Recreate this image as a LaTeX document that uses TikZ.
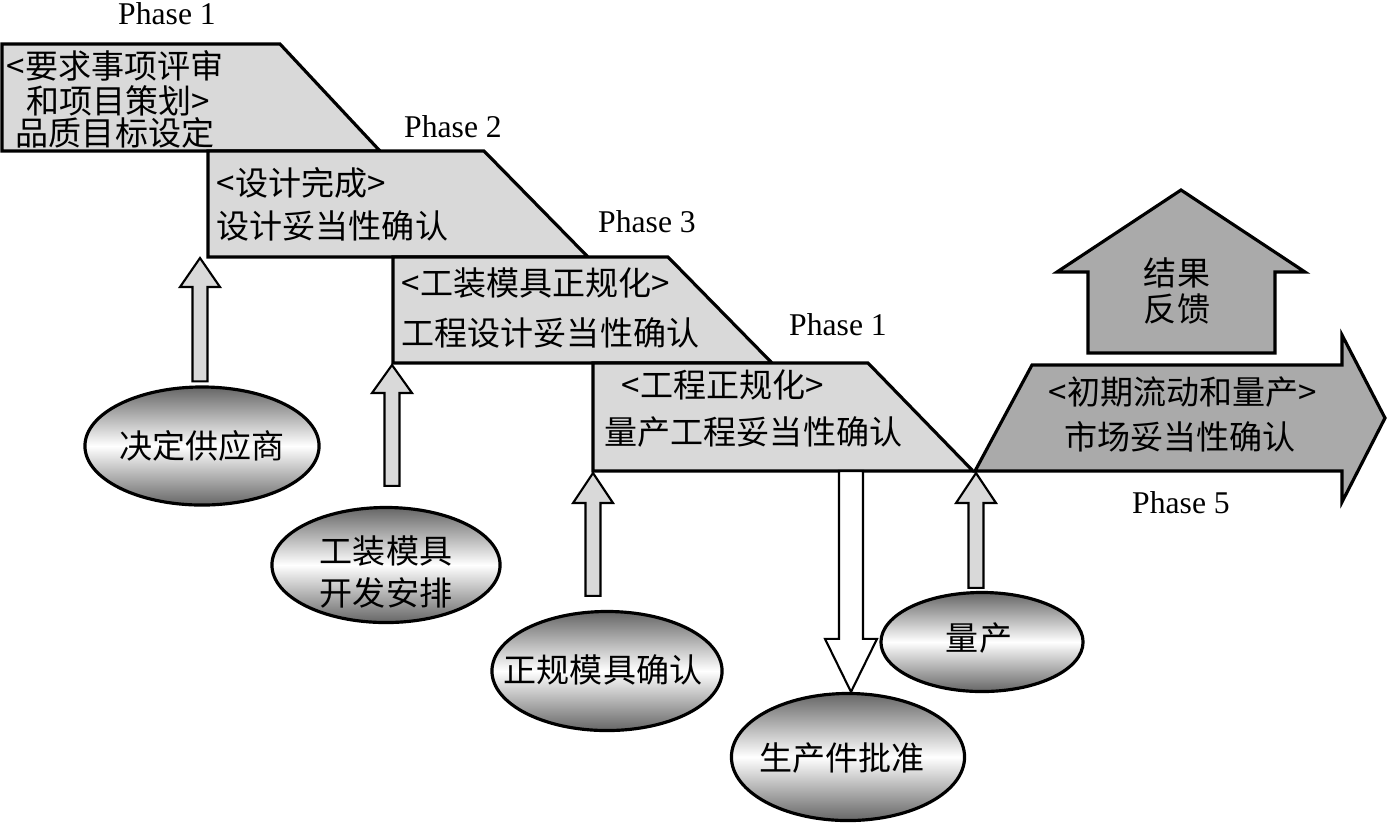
\documentclass[tikz,border=0pt]{standalone}
\usepackage{fontspec}
\setmainfont{Liberation Serif}
\newfontfamily\cjk{Noto Sans CJK SC}
\usetikzlibrary{shapes.geometric,calc}
\definecolor{boxgray}{RGB}{217,217,217}
\definecolor{markgray}{RGB}{170,170,170}
\tikzset{
  phasebox/.style={draw, line width=0.9pt, fill=boxgray, line join=miter},
  bigarrow/.style={draw, line width=0.9pt, fill=markgray},
  uparrow/.style={draw, line width=0.6pt, fill=boxgray},
  downarrow/.style={draw, line width=0.6pt, fill=white},
  cjktext/.style={font=\cjk\fontsize{9.4}{11}\selectfont, inner sep=0pt},
  phaselabel/.style={font=\fontsize{9}{11}\selectfont, inner sep=0pt},
  event/.style={ellipse, draw, line width=0.9pt, top color=black!60,
    bottom color=black!60, middle color=white, inner sep=0pt},
  eventtext/.style={cjktext, align=center, font=\cjk\fontsize{9.4}{10.8}\selectfont},
}
% block arrow: style, tail, tip, half shaft, half head, head length
\newcommand{\blockarrow}[6]{%
  \draw[#1] ($(#2)+(-#4,0)$) -- ($(#3)+(-#4,#6)$) -- ($(#3)+(-#5,#6)$) -- (#3)
    -- ($(#3)+(#5,#6)$) -- ($(#3)+(#4,#6)$) -- ($(#2)+(#4,0)$) -- cycle;}

\begin{document}
\begin{tikzpicture}[x=0.01cm, y=-0.01cm]
\useasboundingbox (0,0) rectangle (1388,823);

% phase boxes
\draw[phasebox] (2,44) -- (280,44) -- (380,151) -- (2,151) -- cycle;
\draw[phasebox] (208,151) -- (484,151) -- (588,257) -- (208,257) -- cycle;
\draw[phasebox] (393,257) -- (668,257) -- (772,363) -- (393,363) -- cycle;
\draw[phasebox] (593,363) -- (868,363) -- (973,471) -- (593,471) -- cycle;

% phase 5 and feedback
\draw[bigarrow] (975,471) -- (1032,365) -- (1342,365) -- (1342,335) -- (1385,418)
  -- (1342,502) -- (1342,471) -- cycle;
\draw[bigarrow] (1088,353) -- (1088,272) -- (1057,272) -- (1181,190) -- (1305,272)
  -- (1275,272) -- (1275,353) -- cycle;

% phase labels
\node[phaselabel] (ph1) at (167,14) {Phase 1};
\node[phaselabel] (ph2) at (453,127) {Phase 2};
\node[phaselabel] (ph3) at (647,222) {Phase 3};
\node[phaselabel] (ph4) at (838,325) {Phase 1};
\node[phaselabel] (ph5) at (1181,503) {Phase 5};

% box texts
\node[cjktext] (b1a) at (115,66) {<要求事项评审};
\node[cjktext] (b1b) at (118,101) {和项目策划>};
\node[cjktext] (b1c) at (115,133) {品质目标设定};
\node[cjktext, anchor=west] (b2a) at (216,183) {<设计完成>};
\node[cjktext, anchor=west] (b2b) at (216,226) {设计妥当性确认};
\node[cjktext, anchor=west] (b3a) at (401,283) {<工装模具正规化>};
\node[cjktext, anchor=west] (b3b) at (401,333) {工程设计妥当性确认};
\node[cjktext, anchor=west] (b4a) at (621,385) {<工程正规化>};
\node[cjktext, anchor=west] (b4b) at (604,432) {量产工程妥当性确认};
\node[cjktext] (b5a) at (1183,392) {<初期流动和量产>};
\node[cjktext] (b5b) at (1180,437) {市场妥当性确认};
\node[cjktext] (fb1) at (1177,273) {结果};
\node[cjktext] (fb2) at (1177,309) {反馈};

% events
\node[event, minimum width=2.34cm, minimum height=1.18cm] (e1) at (202,446) {};
\node[event, minimum width=2.28cm, minimum height=1.15cm] (e2) at (386,565) {};
\node[event, minimum width=2.30cm, minimum height=1.19cm] (e3) at (607,671) {};
\node[event, minimum width=2.02cm, minimum height=0.99cm] (e4) at (982,642) {};
\node[event, minimum width=2.33cm, minimum height=1.27cm] (e5) at (848,757) {};
\node[eventtext] (e1t) at (202,446) {决定供应商};
\node[eventtext] (e2t) at (386,572) {工装模具\\[1.2pt]开发安排};
\node[eventtext] (e3t) at (603,670) {正规模具确认};
\node[eventtext] (e4t) at (979,638) {量产};
\node[eventtext] (e5t) at (842,758) {生产件批准};

% arrow ends
\coordinate (tipA) at (200,258);
\coordinate (tipB) at (392,365);
\coordinate (tipC) at (593,473);
\coordinate (tipD) at (976,473);
\coordinate (tailA) at ($(tipA |- e1.north)+(0,-4)$);
\coordinate (tailB) at ($(tipB |- e2.north)+(0,-20)$);
\coordinate (tailC) at ($(tipC |- e3.north)+(0,-14)$);
\coordinate (tailD) at ($(tipD |- e4.north)+(0,-3)$);
\coordinate (topE) at (851,471);
\coordinate (tipE) at (topE |- e5.north);

\blockarrow{uparrow}{tailA}{tipA}{7.5}{20}{29}
\blockarrow{uparrow}{tailB}{tipB}{7.5}{20}{28}
\blockarrow{uparrow}{tailC}{tipC}{7.5}{20}{30}
\blockarrow{uparrow}{tailD}{tipD}{7.5}{20}{30}
\blockarrow{downarrow}{topE}{tipE}{12}{26}{-53}
\end{tikzpicture}
\end{document}
